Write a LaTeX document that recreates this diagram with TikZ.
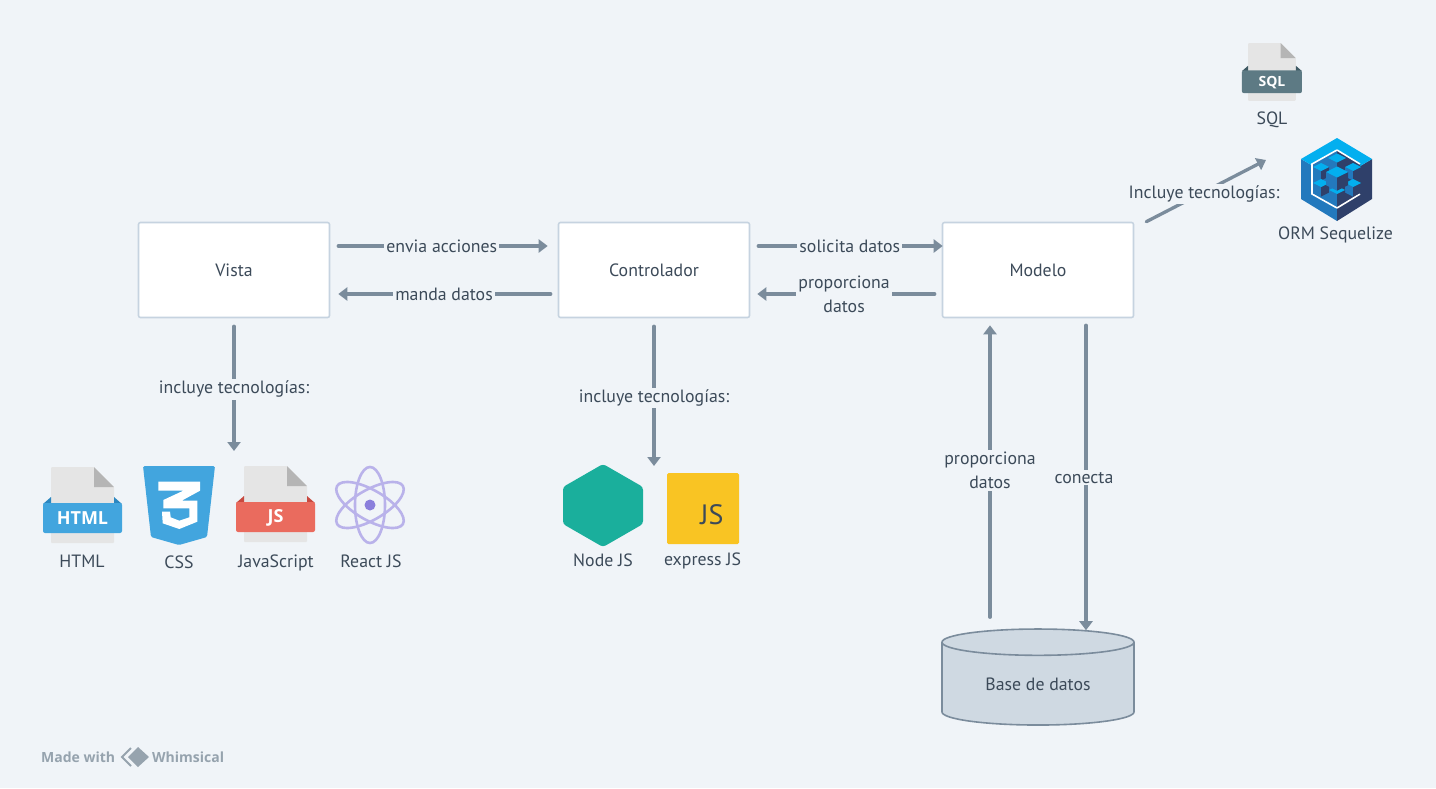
\documentclass[tikz,border=0pt]{standalone}
\usepackage{fontspec}
\setmainfont{PT Sans}
\newfontfamily\wmfont{Open Sans}
\usetikzlibrary{arrows.meta,shapes.geometric}
\definecolor{bgcol}{HTML}{F0F4F8}
\definecolor{edgecol}{HTML}{C6D3E0}
\definecolor{linecol}{HTML}{7B8C9C}
\definecolor{txtcol}{HTML}{3C4A59}
\definecolor{dbcol}{HTML}{CFD9E2}
\definecolor{cssblue}{HTML}{42A5DE}
\definecolor{cssdark}{HTML}{2C87C0}
\definecolor{jsred}{HTML}{EA6B5E}
\definecolor{jsdark}{HTML}{C84A40}
\definecolor{sqlcol}{HTML}{5D7A84}
\definecolor{sqldark}{HTML}{3F5A64}
\definecolor{reactcol}{HTML}{B9B2EA}
\definecolor{reactdot}{HTML}{8A7FDC}
\definecolor{nodecol}{HTML}{1AAF9C}
\definecolor{expresscol}{HTML}{F9C423}
\definecolor{seqtop}{HTML}{03AFEF}
\definecolor{seqmid}{HTML}{2379BD}
\definecolor{seqdark}{HTML}{2F406A}
\definecolor{wmcol}{HTML}{96A3AE}
\tikzset{
    box/.style={draw=edgecol, line width=1.6pt, fill=white, rounded corners=2pt, minimum width=191pt, minimum height=95pt, text=txtcol, font=\fontsize{17.8}{20}\selectfont},
    flow/.style={-{Triangle[length=9pt,width=13pt]}, line width=3.3pt, draw=linecol, line cap=round},
    lab/.style={fill=bgcol, text=txtcol, inner sep=2pt, align=center, font=\fontsize{17.8}{24}\selectfont},
    iconlab/.style={text=txtcol, inner sep=0pt, font=\fontsize{17.8}{20}\selectfont},
}
% paper icon with a coloured band: x, y, scale, band, band shadow, tag name, tag text, tag size
\newcommand{\fileicon}[8]{
    \begin{scope}[shift={(#1,#2)}, scale=#3]
        \fill[black!10, rounded corners=1pt] (0,0) -- (43,0) -- (63,20) -- (63,76) -- (0,76) -- cycle;
        \fill[black!29] (43,0) -- (63,20) -- (43,20) -- cycle;
        \fill[#5] (0,30) -- (0,37) -- (-8,37) -- cycle;
        \fill[#5] (63,30) -- (63,37) -- (71,37) -- cycle;
        \fill[#4, rounded corners=2pt] (-8,36) rectangle (71,66);
        \node[text=white, inner sep=0pt, font=\wmfont\fontsize{#8}{#8}\selectfont\bfseries] (#6) at (31.5,51.5) {#7};
    \end{scope}
}
% x, y of the top face centre, half width
\newcommand{\cubelet}[3]{
    \fill[seqmid] (#1-#3,#2) -- (#1,#2+#3/2) -- (#1,#2+1.7*#3) -- (#1-#3,#2+1.2*#3) -- cycle;
    \fill[seqdark] (#1+#3,#2) -- (#1,#2+#3/2) -- (#1,#2+1.7*#3) -- (#1+#3,#2+1.2*#3) -- cycle;
    \fill[seqtop] (#1-#3,#2) -- (#1,#2-#3/2) -- (#1+#3,#2) -- (#1,#2+#3/2) -- cycle;
}

\begin{document}
\begin{tikzpicture}[x=1pt,y=-1pt]
    \useasboundingbox[fill=bgcol] (0,0) rectangle (1436,788);

    \node[box] (vista) at (234,270) {Vista};
    \node[box] (control) at (654,270) {Controlador};
    \node[box] (modelo) at (1038,270) {Modelo};
    \node[cylinder, shape border rotate=90, aspect=0.25, draw=linecol, line width=1.6pt, fill=dbcol, minimum width=192pt, minimum height=96pt, inner sep=0pt, text=txtcol, font=\fontsize{17.8}{20}\selectfont] (basedatos) at (1038,684) {Base de datos};

    \draw[flow, shorten <=8pt, shorten >=10pt] ([yshift=24pt]vista.east) -- node[lab, pos=0.49] (enviaLab) {envia acciones} ([yshift=24pt]control.west);
    \draw[flow, shorten <=7pt, shorten >=8pt] ([yshift=-24pt]control.west) -- node[lab] (mandaLab) {manda datos} ([yshift=-24pt]vista.east);
    \draw[flow, shorten <=8pt, shorten >=-1pt] ([yshift=24pt]control.east) -- node[lab, pos=0.52] (solicitaLab) {solicita datos} ([yshift=24pt]modelo.west);
    \draw[flow, shorten <=7pt, shorten >=7pt] ([yshift=-24pt]modelo.west) -- node[lab, pos=0.51] (propLab) {proporciona\\datos} ([yshift=-24pt]control.east);

    \coordinate (vistaTec) at (234,451);
    \coordinate (controlTec) at (654,466);
    \coordinate (ormTec) at (1266,160);
    \draw[flow, shorten <=8pt] (vista.south) -- node[lab, pos=0.535] (vistaLab) {incluye tecnologías:} (vistaTec);
    \draw[flow, shorten <=8pt] (control.south) -- node[lab, pos=0.54] (controlLab) {incluye tecnologías:} (controlTec);
    \draw[flow] ([xshift=12pt]modelo.north east) -- node[lab, pos=0.483, yshift=-2pt] (modeloLab) {Incluye tecnologías:} (ormTec);
    \draw[flow, shorten <=11pt, shorten >=7pt] ([xshift=-48pt]modelo.south |- basedatos.north) -- node[lab, pos=0.508] (propBdLab) {proporciona\\datos} ([xshift=-48pt]modelo.south);
    \draw[flow, shorten <=7pt, shorten >=-2pt] ([xshift=48pt]modelo.south) -- node[lab, pos=0.514, xshift=-2pt] (conectaLab) {conecta} ([xshift=48pt]modelo.south |- basedatos.north);

    % HTML
    \fileicon{51}{467}{1}{cssblue}{cssdark}{htmlTag}{HTML}{18}
    \node[iconlab] (htmlLab) at (82,561) {HTML};
    % CSS
    \fill[cssblue, rounded corners=1.5pt] (143,466) -- (215,466) -- (207,537) -- (179,545) -- (151,537) -- cycle;
    \fill[white] (158.3,481.7) -- (200,481.7) -- (200,490.7) -- (181.7,500.7) -- (197.3,500.7) -- (197.3,521.7) -- (179.3,529) -- (162.7,523.3) -- (162,511.7) -- (170,511.7) -- (170.7,517.3) -- (179.3,520.7) -- (189.3,517.3) -- (189.3,508.3) -- (163.3,508.3) -- (163.3,500) -- (183.3,490.7) -- (158.3,490.7) -- cycle;
    \node[iconlab] (cssLab) at (179,562) {CSS};
    % JavaScript
    \fileicon{244}{466}{1}{jsred}{jsdark}{jsTag}{JS}{18}
    \node[iconlab] (jsLab) at (276,563) {JavaScript};
    % React
    \draw[reactcol, line width=2.6pt, rotate around={90:(370,505)}] (370,505) circle [x radius=38, y radius=15];
    \draw[reactcol, line width=2.6pt, rotate around={30:(370,505)}] (370,505) circle [x radius=38, y radius=15];
    \draw[reactcol, line width=2.6pt, rotate around={-30:(370,505)}] (370,505) circle [x radius=38, y radius=15];
    \fill[reactdot] (370,505) circle (5.5);
    \node[iconlab] (reactLab) at (371,561) {React JS};

    % Node
    \fill[nodecol, rounded corners=3pt] (603,464) -- (643,487) -- (643,524) -- (603,547) -- (563,524) -- (563,487) -- cycle;
    \node[iconlab] (nodeLab) at (603,560) {Node JS};
    % express
    \fill[expresscol, rounded corners=1.5pt] (667,473) rectangle (739,544);
    \node[text=txtcol, inner sep=0pt, font=\fontsize{28}{28}\selectfont] (expressTag) at (712,515) {JS};
    \node[iconlab] (expressLab) at (702.5,561) {express JS};

    % SQL
    \fileicon{1248}{43}{0.76}{sqlcol}{sqldark}{sqlTag}{SQL}{14}
    \node[iconlab] (sqlLab) at (1272,119.5) {SQL};
    % Sequelize
    \fill[seqmid] (1301,159) -- (1337,180) -- (1337,221) -- (1301,199) -- cycle;
    \fill[seqdark] (1372,159) -- (1337,180) -- (1337,221) -- (1372,199) -- cycle;
    \fill[seqtop] (1337,138) -- (1372,159) -- (1337,180) -- (1301,159) -- cycle;
    \fill[seqmid] (1337,150) -- (1312,164) -- (1312,194) -- (1337,208) -- cycle;
    \fill[seqdark] (1337,150) -- (1360,164) -- (1360,194) -- (1337,208) -- cycle;
    \draw[white, line width=1.6pt] (1337,150) -- (1312,164) -- (1312,194) -- (1337,208);
    \draw[white, line width=1.6pt] (1337,150) -- (1360,164);
    \draw[white, line width=1.6pt] (1337,208) -- (1360,194);
    \foreach \cx/\cy/\cw in {1337/158/9, 1321/167/8, 1353/167/8, 1321/183/8, 1353/183/8, 1337/190/8, 1337/172/11}{
        \cubelet{\cx}{\cy}{\cw}
    }
    \node[iconlab] (ormLab) at (1335.5,234.5) {ORM Sequelize};

    % watermark
    \node[text=wmcol, inner sep=0pt, anchor=west, font=\wmfont\fontsize{14}{16}\selectfont\bfseries] (madeLab) at (41,757) {Made with};
    \node[text=wmcol, inner sep=0pt, anchor=west, font=\wmfont\fontsize{14}{16}\selectfont\bfseries] (whimLab) at (152,757) {Whimsical};
    \draw[wmcol, line width=2pt] (131,748) -- (122,757) -- (131,766);
    \fill[wmcol] (138,747) -- (149,757) -- (138,767) -- (128,757) -- cycle;
\end{tikzpicture}
\end{document}
